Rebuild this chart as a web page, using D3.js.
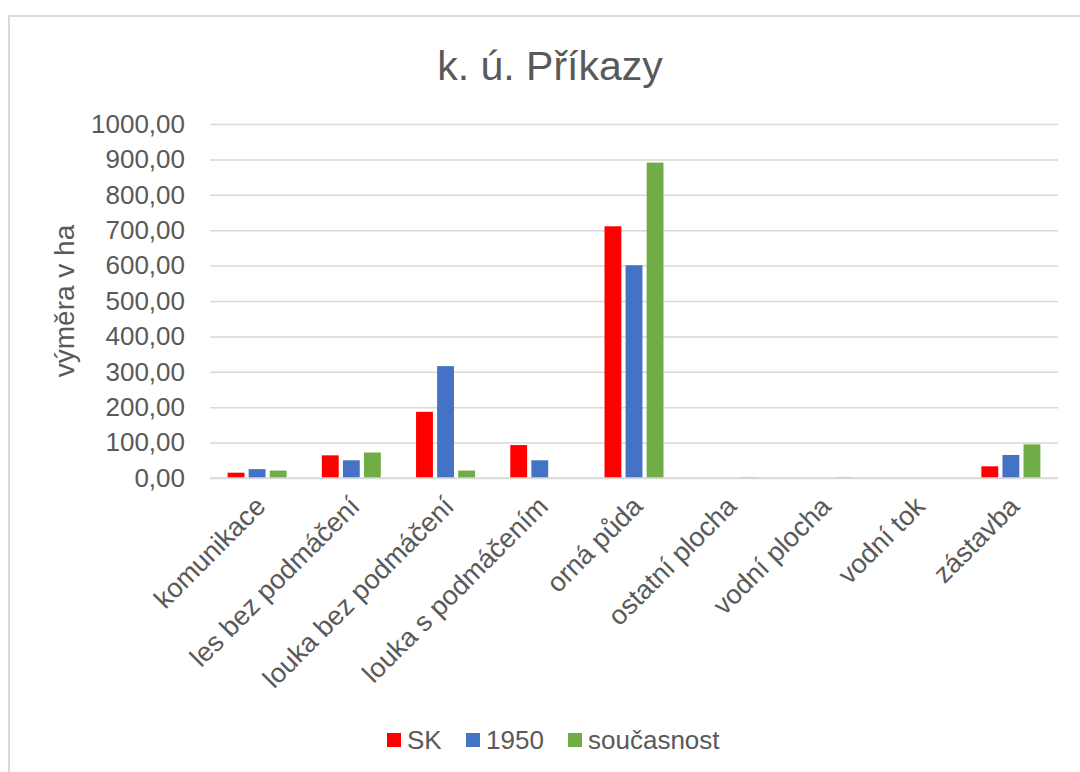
<!DOCTYPE html>
<html>
<meta charset="UTF-8">
<head>
  <style>
    body { margin: 0; background: #fff; }
    text { font-family: "Liberation Sans", Arial, sans-serif; fill: #595959; }
  </style>
</head>
<script src="https://cdn.jsdelivr.net/npm/d3@7"></script>
<body>
  <div id="chart"></div>
  <script>
    // data
    var categories = ["komunikace", "les bez podmáčení", "louka bez podmáčení", "louka s podmáčením",
      "orná půda", "ostatní plocha", "vodní plocha", "vodní tok", "zástavba"];
    var seriesNames = ["SK", "1950", "současnost"];
    var valuesSK = [15, 64, 187, 93, 711, 0, 0, 0, 33];
    var values1950 = [25, 50, 316, 50, 601, 0, 0, 0, 65];
    var valuesNow = [21, 72, 21, 0, 891, 2, 2, 0, 95];
    var yTicks = [0, 100, 200, 300, 400, 500, 600, 700, 800, 900, 1000];
    var colors = ["#ff0000", "#4472c4", "#70ad47"];

    var allValues = [valuesSK, values1950, valuesNow];

    var width = 1080;
    var height = 772;
    var margin = { top: 124, bottom: 294, left: 210, right: 22 };

    var svg = d3.select("#chart").append("svg")
      .attr("width", width)
      .attr("height", height);

    // chart area border (only left/top visible in the picture)
    svg.append("rect")
      .attr("x", 9)
      .attr("y", 16)
      .attr("width", width)
      .attr("height", height)
      .attr("fill", "none")
      .attr("stroke", "#d9d9d9")
      .attr("stroke-width", 2);

    var x0 = d3.scaleBand()
      .domain(categories)
      .range([margin.left, width - margin.right])
      .paddingInner(0.374)
      .paddingOuter(0.187);

    var x1 = d3.scaleBand()
      .domain(seriesNames)
      .range([0, x0.bandwidth()])
      .paddingInner(0.2);

    var y = d3.scaleLinear()
      .domain([0, 1000])
      .range([height - margin.bottom, margin.top]);

    // gridlines
    var grid = d3.axisLeft(y)
      .tickValues(yTicks)
      .tickSize(-(width - margin.left - margin.right))
      .tickFormat("");

    svg.append("g")
      .attr("class", "grid")
      .attr("transform", `translate(${margin.left},0)`)
      .call(grid)
      .call(g => g.select(".domain").remove())
      .call(g => g.selectAll("line").attr("stroke", "#d9d9d9").attr("stroke-width", 1.5));

    // y tick labels
    var fmt = d => d3.format(".2f")(d).replace(".", ",");
    var yAxis = d3.axisLeft(y)
      .tickValues(yTicks)
      .tickSize(0)
      .tickPadding(25)
      .tickFormat(fmt);

    svg.append("g")
      .attr("transform", `translate(${margin.left},0)`)
      .call(yAxis)
      .call(g => g.select(".domain").remove())
      .call(g => g.selectAll("text")
        .attr("font-size", 26)
        .attr("fill", "#595959")
        .attr("font-family", '"Liberation Sans", Arial, sans-serif'));

    // bars
    var groups = svg.selectAll(".cat")
      .data(categories)
      .enter()
      .append("g")
      .attr("class", "cat")
      .attr("transform", d => `translate(${x0(d)},0)`);

    groups.selectAll("rect")
      .data((d, i) => seriesNames.map((s, j) => ({ s: s, v: allValues[j][i], c: colors[j] })))
      .enter()
      .append("rect")
      .attr("x", d => x1(d.s))
      .attr("y", d => y(d.v))
      .attr("width", x1.bandwidth())
      .attr("height", d => y(0) - y(d.v))
      .attr("fill", d => d.c);

    // baseline
    svg.append("line")
      .attr("x1", margin.left)
      .attr("x2", width - margin.right)
      .attr("y1", y(0))
      .attr("y2", y(0))
      .attr("stroke", "#d9d9d9")
      .attr("stroke-width", 1.5);

    // x labels, rotated
    var xAxis = d3.axisBottom(x0).tickSize(0).tickPadding(0);
    svg.append("g")
      .attr("transform", `translate(0,${y(0)})`)
      .call(xAxis)
      .call(g => g.select(".domain").remove())
      .call(g => g.selectAll("text")
        .attr("font-size", 27)
        .attr("fill", "#595959")
        .attr("font-family", '"Liberation Sans", Arial, sans-serif')
        .attr("text-anchor", "end")
        .attr("dy", null)
        .attr("y", 0)
        .attr("transform", "translate(10,30) rotate(-45)"));

    // title
    svg.append("text")
      .attr("x", 550)
      .attr("y", 80)
      .attr("text-anchor", "middle")
      .attr("font-size", 41)
      .text("k. ú. Příkazy");

    // y axis title
    svg.append("text")
      .attr("transform", "translate(74,301) rotate(-90)")
      .attr("text-anchor", "middle")
      .attr("font-size", 28)
      .text("výměra v ha");

    // legend
    var legendX = [387, 466, 568];
    var legend = svg.selectAll(".legend")
      .data(seriesNames)
      .enter()
      .append("g")
      .attr("class", "legend")
      .attr("transform", (d, i) => `translate(${legendX[i]},740)`);

    legend.append("rect")
      .attr("x", 0)
      .attr("y", -7)
      .attr("width", 14)
      .attr("height", 14)
      .attr("fill", (d, i) => colors[i]);

    legend.append("text")
      .attr("x", 20)
      .attr("y", 0)
      .attr("dominant-baseline", "central")
      .attr("font-size", 26)
      .text(d => d);
  </script>
</body>
</html>
